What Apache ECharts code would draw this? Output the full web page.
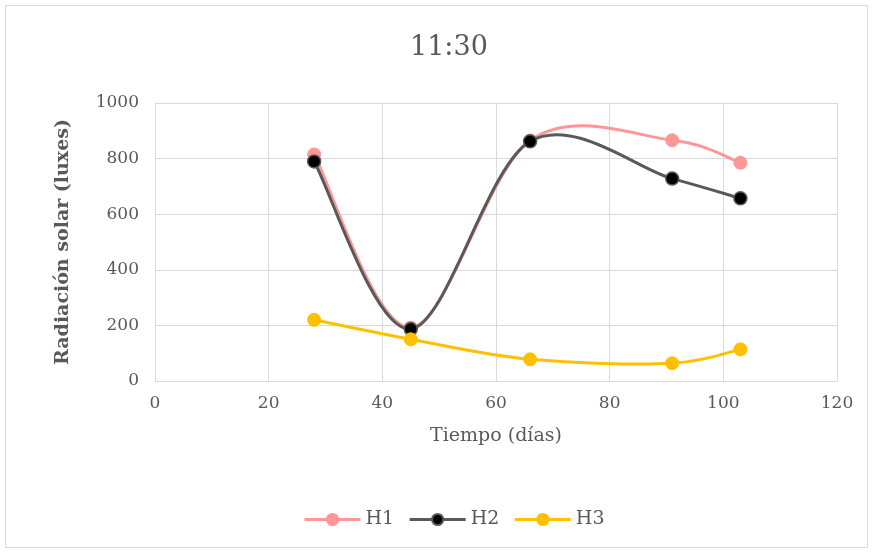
<!DOCTYPE html>
<html><head><meta charset="utf-8">
<script src="https://cdn.jsdelivr.net/npm/echarts@6/dist/echarts.min.js"></script>
<style>html,body{margin:0;padding:0;background:#fff}#c{width:874px;height:554px}</style>
</head><body><div id="c"></div>
<script>
var days = [28, 45, 66, 91, 103];
var h1 = [815, 192, 865, 866, 785];
var h2 = [790, 187, 862, 728, 657];
var h3 = [220, 150, 78, 64, 114];
var seriesNames = ['H1', 'H2', 'H3'];
var colors = ['#ff9797', '#595959', '#ffc000'];
var markerFill = ['#ff9797', '#000000', '#ffc000'];
var FONT = 'DejaVu Serif';
function pairs(v){ return days.map(function(d,i){ return [d, v[i]]; }); }

// Excel-like smooth curve (Catmull-Rom Bezier) drawn through the axis scales
function curveRenderer(vals, color){
  return function(params, api){
    var p = days.map(function(d,i){ return api.coord([d, vals[i]]); });
    var n = p.length, s = 'M' + p[0][0] + ' ' + p[0][1];
    for (var i = 0; i < n - 1; i++){
      var p0 = p[Math.max(i-1,0)], p1 = p[i], p2 = p[i+1], p3 = p[Math.min(i+2,n-1)];
      var c1 = [p1[0] + (p2[0]-p0[0])/6, p1[1] + (p2[1]-p0[1])/6];
      var c2 = [p2[0] - (p3[0]-p1[0])/6, p2[1] - (p3[1]-p1[1])/6];
      s += ' C' + c1[0] + ' ' + c1[1] + ' ' + c2[0] + ' ' + c2[1] + ' ' + p2[0] + ' ' + p2[1];
    }
    return {type: 'path', shape: {pathData: s},
      style: {fill: 'none', stroke: color, lineWidth: 3, lineJoin: 'round', lineCap: 'round'}};
  };
}

var allVals = [h1, h2, h3];
var series = [];
allVals.forEach(function(v, k){
  series.push({name: seriesNames[k], type: 'line', data: pairs(v), symbol: 'circle', symbolSize: 13,
    z: 3 + k*2, color: colors[k],
    lineStyle: {color: colors[k], width: 3, opacity: 0},
    itemStyle: {color: markerFill[k], borderColor: colors[k], borderWidth: k === 1 ? 1.5 : 1}});
});
allVals.forEach(function(v, k){
  series.push({name: 'curve' + k, type: 'custom', renderItem: curveRenderer(v, colors[k]),
    data: [0], z: 2 + k*2, silent: true, clip: false, itemStyle: {color: colors[k]}});
});

var chart = echarts.init(document.getElementById('c'));
chart.setOption({
  backgroundColor: '#fff',
  animation: false,
  graphic: [{type:'rect', shape:{x:5.5,y:5.5,width:862,height:542}, style:{fill:'none', stroke:'#d9d9d9', lineWidth:1}}],
  title: {text: '11:30', left: 405, top: 29, textStyle: {fontFamily: FONT, fontSize: 27, fontWeight: 'normal', color: '#595959'}},
  grid: {left: 155, right: 37, top: 103, bottom: 173},
  xAxis: {type: 'value', min: 0, max: 120, interval: 20,
    name: 'Tiempo (días)', nameLocation: 'middle', nameGap: 46,
    nameTextStyle: {fontFamily: FONT, fontSize: 19, color: '#595959'},
    axisLine: {show: true, lineStyle: {color: '#d9d9d9', width: 1}},
    axisTick: {show: false},
    axisLabel: {fontFamily: FONT, fontSize: 17, color: '#595959', margin: 14},
    splitLine: {show: true, lineStyle: {color: '#d9d9d9', width: 1}}},
  yAxis: {type: 'value', min: 0, max: 1000, interval: 200,
    name: 'Radiación solar (luxes)', nameLocation: 'middle', nameGap: 82,
    nameTextStyle: {fontFamily: FONT, fontSize: 19, fontWeight: 'bold', color: '#595959'},
    axisLine: {show: true, lineStyle: {color: '#d9d9d9', width: 1}},
    axisTick: {show: false},
    axisLabel: {fontFamily: FONT, fontSize: 17, color: '#595959', margin: 16,
      formatter: function(v){ return String(v); }},
    splitLine: {show: true, lineStyle: {color: '#d9d9d9', width: 1}}},
  legend: {bottom: 20, left: 298, itemWidth: 56, itemHeight: 14, itemGap: 14,
    textStyle: {fontFamily: FONT, fontSize: 19, color: '#595959'},
    data: seriesNames.map(function(n, k){
      return {name: n, lineStyle: {opacity: 1, color: colors[k], width: 3}};
    })},
  series: series
});
</script></body></html>
